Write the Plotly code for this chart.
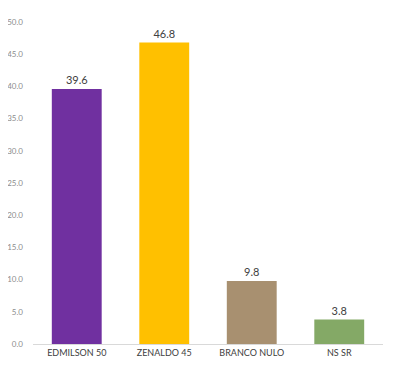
import plotly.graph_objects as go

categories = ["EDMILSON 50", "ZENALDO 45", "BRANCO NULO", "NS SR"]
values = [39.6, 46.8, 9.8, 3.8]
colors = ["#7030A0", "#FFC000", "#A89070", "#84A966"]
tick_vals = [0, 5, 10, 15, 20, 25, 30, 35, 40, 45, 50]
tick_text = [f"{v:.1f}" for v in tick_vals]

fig = go.Figure(go.Bar(
    x=categories, y=values,
    marker=dict(color=colors, line=dict(width=0)),
    text=[f"{v:.1f}" for v in values],
    textposition="outside",
    textfont=dict(family="Lato, Open Sans, sans-serif", size=11, color="#404040"),
    cliponaxis=False,
))

fig.update_layout(
    width=400, height=377,
    margin=dict(l=25, r=25, t=14, b=41, autoexpand=False),
    paper_bgcolor="white", plot_bgcolor="white",
    bargap=0.43,
    showlegend=False,
    font=dict(family="Lato, Open Sans, sans-serif"),
)
fig.update_xaxes(
    showline=True, linecolor="#D9D9D9", linewidth=1,
    ticks="", tickfont=dict(size=9, color="#404040"),
    showgrid=False, automargin=False,
)
fig.update_yaxes(
    range=[0, 50], tickvals=tick_vals, ticktext=tick_text,
    showgrid=False, zeroline=False, showline=False,
    tickfont=dict(size=8, color="#8C8C8C"),
    ticklabelstandoff=9, automargin=False,
)

fig.write_html("out.html")
